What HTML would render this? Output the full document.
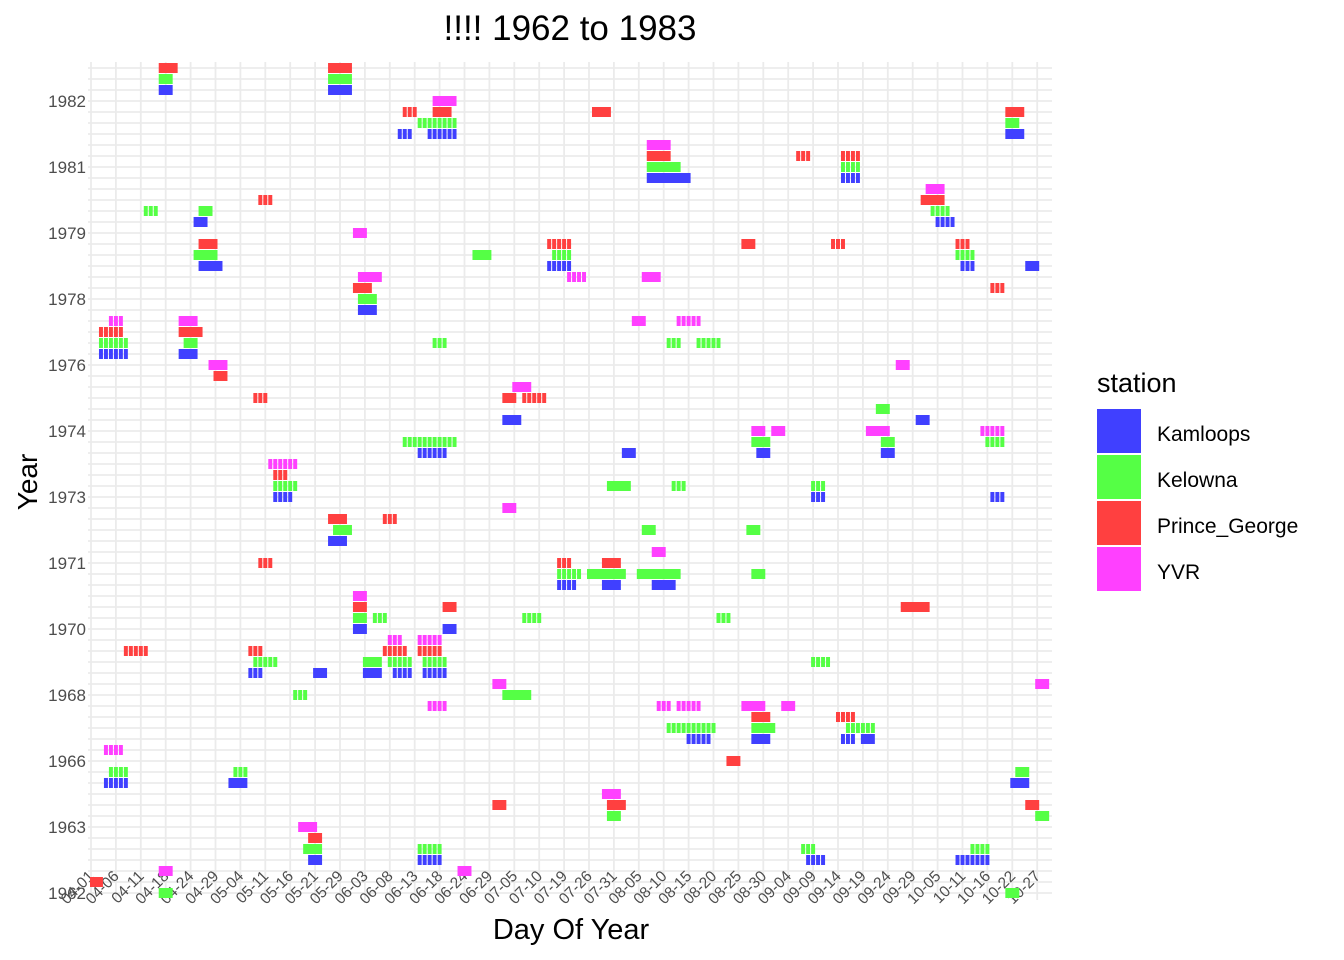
<!DOCTYPE html>
<html>
<head>
<meta charset="utf-8">
<style>
  html, body { margin: 0; padding: 0; background: #ffffff; }
  body { width: 1344px; height: 960px; overflow: hidden; }
  svg { display: block; font-family: "Liberation Sans", Arial, sans-serif; }
</style>
</head>
<body>
<svg id="chart" width="1344" height="960" viewBox="0 0 1344 960" xmlns="http://www.w3.org/2000/svg">
  <rect x="0" y="0" width="1344" height="960" fill="#ffffff"/>
  <g id="grid"></g>
  <g id="xticks"></g>
  <g id="yticks"></g>
  <g id="tiles"></g>
  <text x="570" y="40" font-size="35" text-anchor="middle" fill="#000">!!!! 1962 to 1983</text>
  <text x="571" y="939" font-size="29" text-anchor="middle" fill="#000">Day Of Year</text>
  <text x="0" y="0" font-size="28" text-anchor="middle" fill="#000" transform="translate(37,482) rotate(-90)">Year</text>
  <g>
    <text x="1097" y="392" font-size="27" fill="#000">station</text>
    <g>
      <rect x="1097" y="409" width="44" height="44" fill="#4040FF"/>
      <text x="1157" y="441" font-size="21" fill="#000">Kamloops</text>
    </g>
    <g>
      <rect x="1097" y="455" width="44" height="44" fill="#55FF45"/>
      <text x="1157" y="487" font-size="21" fill="#000">Kelowna</text>
    </g>
    <g>
      <rect x="1097" y="501" width="44" height="44" fill="#FF4040"/>
      <text x="1157" y="533" font-size="21" fill="#000">Prince_George</text>
    </g>
    <g>
      <rect x="1097" y="547" width="44" height="44" fill="#FF40FF"/>
      <text x="1157" y="579" font-size="21" fill="#000">YVR</text>
    </g>
  </g>
</svg>
<script>
// ---- data ----
const yearLabels = ["1962","1963","1966","1968","1970","1971","1973","1974","1976","1978","1979","1981","1982"];
const yearLabelRows = [0,6,12,18,24,30,36,42,48,54,60,66,72];
const dayLabels = ["04-01","04-06","04-11","04-18","04-24","04-29","05-04","05-11","05-16","05-21","05-29","06-03","06-08","06-13","06-18","06-24","06-29","07-05","07-10","07-19","07-26","07-31","08-05","08-10","08-15","08-20","08-25","08-30","09-04","09-09","09-14","09-19","09-24","09-29","10-05","10-11","10-16","10-22","10-27"];
const stations = ["Kamloops","Kelowna","Prince_George","YVR"];
const stationColors = {K:"#4040FF", E:"#55FF45", P:"#FF4040", Y:"#FF40FF"};
// each tile run: station code, row level, first day level, number of day levels, dashed flag
const tileStation = [
 "P","E","K","P","E","K","P","K","P","E","E","K","Y","P","E","K","Y","P","E","K","Y","Y","P","P","E","E",
 "K","E","E","Y","P","P","P","E","E","E","K","K","K","K","E","Y","E","E","K","K","Y","P","E","K","Y","P","E","Y","E","K","E","K","E","K","E",
 "K","K","Y","P","P","E","Y","P","E","K","P","P","E","K","P","Y","P",
 "Y","P","P","E","K","Y","P","E","K","P","P","E","E","K","Y","Y","Y","Y","E","E","E",
 "Y","P","P","K","Y","E","K","K","K","E","E","Y","E","E","Y","P","P","E","E","E","E","K","K","K","P","E","E","K",
 "Y","P","E","K","Y","E","Y","Y","Y","Y","P","E","E","K","K","P","Y","P","P","E",
 "P","E","K","P","P","E","K","Y","P","E","K","P","P","E","K","K","P",
 "Y","E","K","Y","Y","Y","E","E","K","E","K","K","P",
 "E","Y","Y","P","E","K","K","E","K","P","E"];
const tileRow   = [75,74,73,75,74,73,71,69,63,62,62,61,60,59,58,57,56,55,54,53,52,52,51,51,50,50, 24,25,25,23,22,22,22,21,21,21,20,20,20,20,18,13,11,11,10,10,6,5,4,3,2,1,0,2,4,3,4,3,4,3,0, 49,49,48,47,45,41,39,38,37,36,34,34,33,32,30,27,26, 72,71,71,70,69,68,67,66,65,59,59,58,58,57,56,56,52,52,50,50,50, 46,45,45,43,42,41,40,40,40,37,37,35,33,33,31,30,30,29,29,29,29,28,28,28,26,25,25,24, 23,22,21,20,19,18,17,17,17,17,16,15,15,14,14,12,9,8,8,7, 71,70,69,67,67,66,65,64,63,62,61,59,59,58,57,57,55, 48,44,43,42,42,42,41,41,40,37,36,36,26, 21,19,17,16,15,14,14,11,10,8,7];
const tileStart = [14,14,14,48,48,48,63,62,34,11,22,21,53,22,21,22,54,53,54,54,4,18,2,18,2,19, 53,53,57,60,7,32,59,33,55,60,32,45,55,61,41,3,4,29,3,28,42,44,43,44,14,0,14,74,66,66,143,144,177,174,184, 2,18,24,25,33,63,36,37,37,37,48,59,49,48,34,53,53, 69,69,101,66,68,112,112,112,112,92,131,77,93,92,96,111,109,118,69,116,122, 85,83,87,83,133,133,66,107,134,104,117,83,111,132,113,94,103,94,100,110,133,94,103,113,71,87,126,71, 66,66,67,67,81,83,68,114,118,131,133,116,133,120,133,128,103,81,104,104, 184,184,184,142,151,151,151,168,167,169,170,149,174,174,175,188,181, 162,158,166,137,156,179,159,180,159,145,145,181,163, 145,190,139,150,152,151,155,186,185,188,190];
const tileLength = [4,3,3,5,5,5,3,3,3,3,3,3,3,4,5,5,5,4,4,4,3,4,5,5,6,3, 3,3,3,3,5,3,5,5,4,5,3,3,4,4,3,4,4,3,5,4,4,3,4,3,3,3,3,3,5,5,3,4,4,7,3, 6,4,4,3,3,11,6,3,5,4,4,3,4,4,3,3,3, 5,4,4,8,6,5,5,7,9,5,3,4,4,5,4,4,3,5,3,3,5, 4,3,5,4,3,4,6,3,3,5,3,3,3,3,3,3,4,5,8,9,3,4,4,5,3,4,3,3, 5,5,5,5,3,6,4,3,5,5,4,10,5,5,4,3,4,3,4,3, 4,3,4,3,4,4,4,4,5,4,4,3,3,4,3,3,3, 3,3,3,3,5,5,3,4,3,3,3,3,6, 4,3,3,4,6,3,3,3,4,3,3];
const tileDashed = [0,0,0,0,0,0,1,1,1,1,0,0,0,0,0,0,0,0,0,0,1,0,1,0,1,0, 0,0,1,1,1,1,1,1,0,1,1,0,0,1,1,1,1,1,1,0,0,0,0,0,0,0,0,0,1,1,1,1,1,1,0, 1,0,0,0,1,1,1,1,1,1,0,1,0,0,1,0,0, 0,0,0,1,1,0,0,0,0,1,0,0,1,1,1,0,0,1,1,1,1, 0,0,1,0,0,0,1,0,0,0,1,0,0,0,0,1,0,1,0,0,0,1,0,0,0,1,1,0, 1,1,1,1,0,0,1,1,1,0,0,1,0,1,0,0,0,0,0,0, 0,0,0,1,1,1,1,0,0,1,1,1,1,1,1,0,1, 0,0,0,0,0,1,0,1,0,1,1,1,0, 1,0,0,1,1,1,0,0,0,0,0];

// ---- scales ----
const PX0 = 90, PX1 = 1052, PY0 = 62, PY1 = 900;
const dayStep = 4.98, rowStep = 11;
function xCenter(i) { return 91 + dayStep * i; }
function yCenter(r) { return 893 - rowStep * r; }
const NS = "http://www.w3.org/2000/svg";
function mk(tag, attrs, parent) {
  const el = document.createElementNS(NS, tag);
  for (const k in attrs) el.setAttribute(k, attrs[k]);
  parent.appendChild(el);
  return el;
}

// ---- grid ----
const grid = document.getElementById("grid");
for (let r = 0; r <= 75; r++) {
  const y = yCenter(r);
  const ln = mk("line", {x1: PX0 - 2, x2: PX1, y1: y, y2: y, stroke: "#EBEBEB", "stroke-width": 1.8}, grid);
  
  
}
for (let k = 0; k < dayLabels.length; k++) {
  const x = xCenter(k * 5);
  const ln = mk("line", {x1: x, x2: x, y1: PY0, y2: PY1, stroke: "#EBEBEB", "stroke-width": 1.8}, grid);
  
  
}

// ---- y tick labels ----
const yt = document.getElementById("yticks");
yearLabels.forEach((lab, j) => {
  const t = mk("text", {x: 86, y: yCenter(yearLabelRows[j]) + 6, "font-size": 17, "text-anchor": "end", fill: "#4D4D4D"}, yt);
  
  
  t.textContent = lab;
});

// ---- x tick labels ----
const xt = document.getElementById("xticks");
dayLabels.forEach((lab, k) => {
  const x = xCenter(k * 5) + 4;
  const t = mk("text", {x: 0, y: 0, "font-size": 15.5, "text-anchor": "end", fill: "#4D4D4D", transform: "translate(" + x + ",877) rotate(-45)"}, xt);
  
  
  t.textContent = lab;
});

// ---- tiles ----
const tg = document.getElementById("tiles");
for (let n = 0; n < tileRow.length; n++) {
  const code = tileStation[n] || "K";
  const color = stationColors[code];
  const yc = yCenter(tileRow[n]);
  const s = tileStart[n], len = tileLength[n];
  const cells = tileDashed[n] ? len : 1;
  for (let c = 0; c < cells; c++) {
    const first = tileDashed[n] ? s + c : s;
    const cnt = tileDashed[n] ? 1 : len;
    let x0 = xCenter(first) - dayStep / 2 + 0.5;
    let x1 = xCenter(first + cnt - 1) + dayStep / 2 - 0.5;
    x0 = Math.max(x0, PX0); x1 = Math.min(x1, PX1);
    if (x1 <= x0) continue;
    const rc = mk("rect", {x: x0, y: yc - 5, width: x1 - x0, height: 10, fill: color}, tg);
    
    
  }
}
</script>
</body>
</html>
